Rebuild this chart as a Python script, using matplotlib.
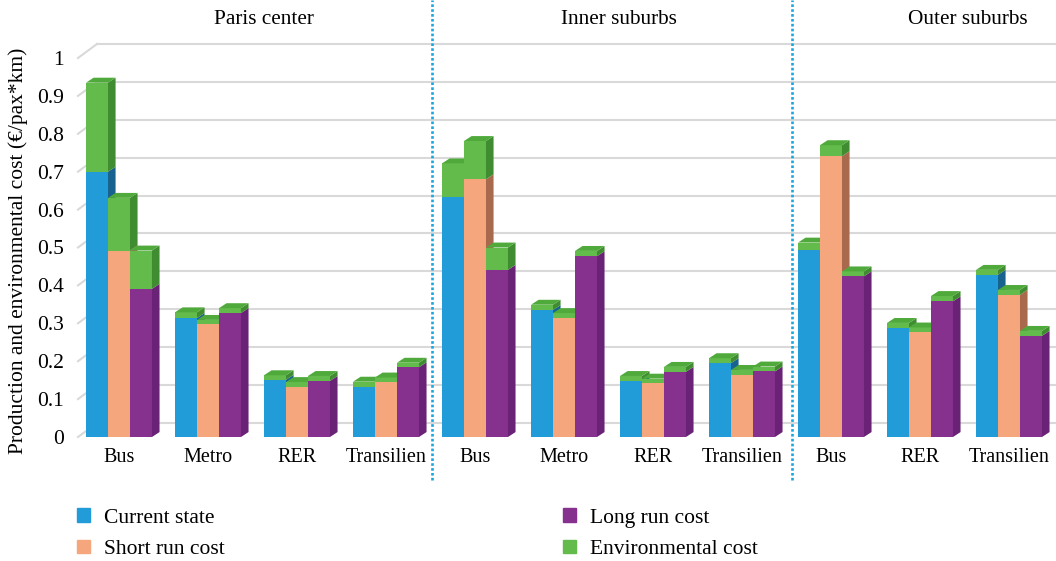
import numpy as np
from matplotlib import pyplot as plt
from matplotlib.patches import Polygon, Patch

# values (EUR / pax*km)
categories = ["Bus", "Metro", "RER", "Transilien",
              "Bus", "Metro", "RER", "Transilien",
              "Bus", "RER", "Transilien"]
zones = ["Paris center", "Inner suburbs", "Outer suburbs"]

current = [0.700, 0.314, 0.151, 0.133, 0.632, 0.335, 0.148, 0.195, 0.494, 0.288, 0.428]
current_env = [0.235, 0.015, 0.012, 0.013, 0.090, 0.014, 0.013, 0.013, 0.019, 0.013, 0.013]
short_run = [0.492, 0.297, 0.132, 0.145, 0.680, 0.314, 0.142, 0.164, 0.741, 0.276, 0.375]
short_env = [0.139, 0.012, 0.013, 0.012, 0.101, 0.013, 0.012, 0.013, 0.029, 0.013, 0.013]
long_run = [0.391, 0.327, 0.148, 0.184, 0.441, 0.477, 0.172, 0.173, 0.424, 0.358, 0.267]
long_env = [0.101, 0.013, 0.013, 0.012, 0.059, 0.014, 0.013, 0.013, 0.013, 0.014, 0.013]

series_names = ["Current state", "Short run cost", "Long run cost", "Environmental cost"]

#----------------
# styling
front = ["#219cd8", "#f5a67c", "#87318f"]
side = ["#17628e", "#a8694c", "#6a2277"]
green = "#62bb4a"
green_side = "#3f8d30"
green_top = "#4faa3b"
grid_col = "#d9d9d9"
div_col = "#19a7e0"
fnt = "Liberation Serif"
fs = 14.5

W, H = 1056, 561
bar_w = 0.247
dx, dy = 0.085, 0.013        # depth of the bars
gx, gy = 0.213, 0.037        # depth of the back wall
divider_x = [3.52, 7.56]
title_x = [1.63, 5.62, 9.54]
#----------------

plt.rcParams["font.family"] = [fnt, "DejaVu Serif"]

fig = plt.figure(figsize=(W / 100, H / 100), dpi=100)
# axes: value 0 at 437 px from top, 1.0 at 58 px, first slot at x=119 px, 89 px per slot
y0px, unit = 437, 379
ax = fig.add_axes([78 / W, (H - y0px) / H, (W - 78) / W, (y0px - 10) / H])
xl = ((78 - 119) / 89, (W - 119) / 89)
ax.set_xlim(*xl)
ax.set_ylim(0, (y0px - 10) / unit)
for s in ax.spines.values():
    s.set_visible(False)

x = np.arange(len(categories))

# back wall grid lines with slanted start
yt = np.round(np.arange(0, 1.01, 0.1), 1)
for v in yt:
    ax.plot([xl[0], xl[0] + gx], [v, v + gy], color=grid_col, lw=1.5, zorder=1, clip_on=False)
    ax.plot([xl[0] + gx, xl[1]], [v + gy, v + gy], color=grid_col, lw=1.5, zorder=1, clip_on=False)

bases = [current, short_run, long_run]
envs = [current_env, short_env, long_env]

z = 3
for i in range(len(categories)):
    for k in range(3):
        xc = x[i] + (k - 1) * bar_w
        b = bases[k][i]
        e = envs[k][i]
        r1 = ax.bar(xc, b, bar_w, color=front[k], zorder=z, lw=0)[0]
        ax.bar(xc, e, bar_w, bottom=b, color=green, zorder=z, lw=0)
        x0 = r1.get_x()
        x1 = x0 + r1.get_width()
        t = b + e
        # side faces
        ax.add_patch(Polygon([(x1, 0), (x1 + dx, dy), (x1 + dx, b + dy), (x1, b)],
                             closed=True, color=side[k], lw=0, zorder=z))
        ax.add_patch(Polygon([(x1, b), (x1 + dx, b + dy), (x1 + dx, t + dy), (x1, t)],
                             closed=True, color=green_side, lw=0, zorder=z))
        # top face
        ax.add_patch(Polygon([(x0, t), (x1, t), (x1 + dx, t + dy), (x0 + dx, t + dy)],
                             closed=True, color=green_top, lw=0, zorder=z))
        z += 0.01

# dotted separators between zones
for d in divider_x:
    ax.plot([d, d], [-0.113, (y0px) / unit], color=div_col, lw=1.9, ls=(0, (1.0, 0.85)),
            zorder=10, clip_on=False)

for t, xt in zip(zones, title_x):
    ax.text(xt, (y0px - 20) / unit, t, ha="center", va="center", fontsize=15.3)

ax.set_yticks(yt)
ax.set_yticklabels([("%g" % v) for v in yt])
ax.set_xticks(x)
ax.set_xticklabels(categories)
ax.tick_params(axis="y", length=0, pad=10, labelsize=15.5)
ax.tick_params(axis="x", length=0, pad=8, labelsize=fs)

fig.text(18 / W, 1 - 251 / H, "Production and environmental cost (€/pax*km)",
         rotation=90, ha="center", va="center", fontsize=15.5)

handles = [Patch(color=c) for c in front] + [Patch(color=green)]
# ncol=2 fills by column: current/short on the left, long/env on the right
fig.legend(handles, series_names, ncol=2, loc="upper left",
           bbox_to_anchor=(58 / W, 1 - 489 / H), frameon=False, fontsize=15.5,
           handlelength=0.6, handleheight=0.6, handletextpad=0.65,
           labelspacing=0.55, columnspacing=15.7)

plt.savefig("out.png", dpi=100)
